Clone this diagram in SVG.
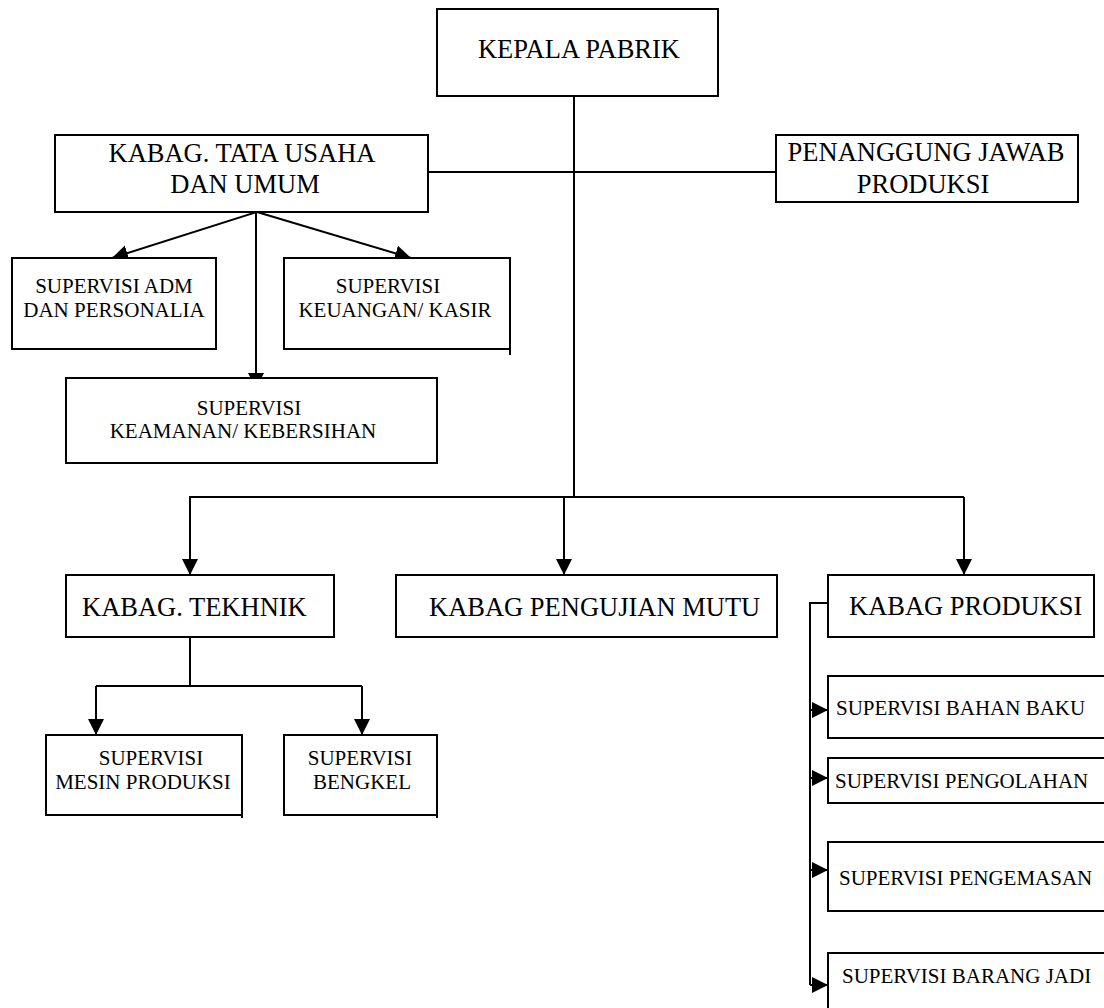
<svg xmlns="http://www.w3.org/2000/svg" width="1104" height="1008" viewBox="0 0 1104 1008">
<style>
.box{fill:#fff;stroke:#000;stroke-width:2}
.ln{fill:none;stroke:#000;stroke-width:2}
.k{font-size:26.5px}
.s{font-size:21px}
.c{text-anchor:middle}
</style>
<defs>
<marker id="ah" markerUnits="userSpaceOnUse" markerWidth="18" markerHeight="18" refX="16" refY="8" orient="auto">
<path d="M0,0 L16,8 L0,16 z" fill="#000"/>
</marker>
</defs>
<rect width="1104" height="1008" fill="#fff"/>

<g id="connectors">
<path class="ln" d="M574,96 V497"/>
<path class="ln" d="M428,172 H776"/>
<path class="ln" d="M257,212 L112,258" marker-end="url(#ah)"/>
<path class="ln" d="M257,212 L411,258" marker-end="url(#ah)"/>
<path class="ln" d="M256,212 V389" marker-end="url(#ah)"/>
<path class="ln" d="M190,575 V497 H964"/>
<path class="ln" d="M190,497 V575" marker-end="url(#ah)"/>
<path class="ln" d="M564,497 V575" marker-end="url(#ah)"/>
<path class="ln" d="M964,497 V575" marker-end="url(#ah)"/>
<path class="ln" d="M190,637 V686 M96,686 H362"/>
<path class="ln" d="M96,686 V735" marker-end="url(#ah)"/>
<path class="ln" d="M362,686 V735" marker-end="url(#ah)"/>
<path class="ln" d="M828,603 H810 V985"/>
<path class="ln" d="M810,710 H828" marker-end="url(#ah)"/>
<path class="ln" d="M810,778 H828" marker-end="url(#ah)"/>
<path class="ln" d="M810,870 H828" marker-end="url(#ah)"/>
<path class="ln" d="M810,985 H828" marker-end="url(#ah)"/>
</g>

<g font-family="'Liberation Serif', Tinos, 'Times New Roman', 'DejaVu Serif', serif" fill="#000">
<g id="kepala-pabrik">
<rect class="box" x="437" y="9" width="281" height="87"/>
<text class="k c" x="579" y="58">KEPALA PABRIK</text>
</g>

<g id="kabag-tata-usaha">
<rect class="box" x="55" y="135" width="373" height="77"/>
<text class="k c" x="242" y="162">KABAG. TATA USAHA</text>
<text class="k c" x="245" y="193">DAN UMUM</text>
</g>

<g id="penanggung-jawab">
<rect class="box" x="776" y="135" width="302" height="67"/>
<text class="k c" x="926" y="161">PENANGGUNG JAWAB</text>
<text class="k c" x="923" y="193">PRODUKSI</text>
</g>

<g id="sup-adm">
<rect class="box" x="12" y="258" width="204" height="91"/>
<text class="s c" x="114" y="293">SUPERVISI ADM</text>
<text class="s c" x="114" y="317">DAN PERSONALIA</text>
</g>

<g id="sup-keuangan">
<rect class="box" x="284" y="258" width="226" height="91"/>
<path class="ln" d="M510,349 V355"/>
<text class="s c" x="388" y="293">SUPERVISI</text>
<text class="s c" x="395" y="317">KEUANGAN/ KASIR</text>
</g>

<g id="sup-keamanan">
<rect class="box" x="66" y="378" width="371" height="85"/>
<text class="s c" x="249" y="415">SUPERVISI</text>
<text class="s c" x="243" y="438">KEAMANAN/ KEBERSIHAN</text>
</g>

<g id="kabag-tekhnik">
<rect class="box" x="66" y="575" width="268" height="62"/>
<text class="k" x="82" y="616">KABAG. TEKHNIK</text>
</g>

<g id="kabag-mutu">
<rect class="box" x="396" y="575" width="381" height="62"/>
<text class="k" x="429" y="616">KABAG PENGUJIAN MUTU</text>
</g>

<g id="kabag-produksi">
<rect class="box" x="828" y="575" width="266" height="62"/>
<text class="k" x="849" y="615">KABAG PRODUKSI</text>
</g>

<g id="sup-mesin">
<rect class="box" x="46" y="735" width="196" height="80"/>
<path class="ln" d="M242,815 V818"/>
<text class="s c" x="151" y="765">SUPERVISI</text>
<text class="s c" x="143" y="789">MESIN PRODUKSI</text>
</g>

<g id="sup-bengkel">
<rect class="box" x="284" y="735" width="153" height="80"/>
<path class="ln" d="M437,815 V818"/>
<text class="s c" x="360" y="765">SUPERVISI</text>
<text class="s c" x="362" y="789">BENGKEL</text>
</g>

<g id="sup-bahan-baku">
<rect class="box" x="828" y="676" width="290" height="62"/>
<text class="s" x="836" y="715">SUPERVISI BAHAN BAKU</text>
</g>

<g id="sup-pengolahan">
<rect class="box" x="828" y="758" width="290" height="45"/>
<text class="s" x="835" y="788">SUPERVISI PENGOLAHAN</text>
</g>

<g id="sup-pengemasan">
<rect class="box" x="828" y="842" width="290" height="69"/>
<text class="s" x="839" y="885">SUPERVISI PENGEMASAN</text>
</g>

<g id="sup-barang-jadi">
<rect class="box" x="828" y="953" width="290" height="70"/>
<text class="s" x="842" y="983">SUPERVISI BARANG JADI</text>
</g>
</g>
</svg>
